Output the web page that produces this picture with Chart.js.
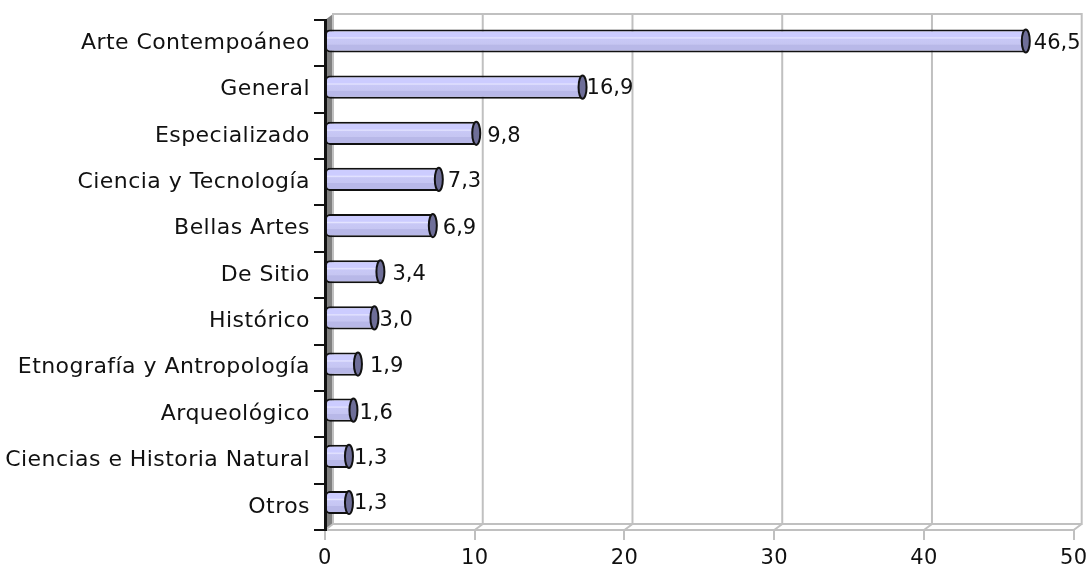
<!DOCTYPE html>
<html>
<head>
<meta charset="utf-8">
<style>
html, body { margin: 0; padding: 0; background: #fff; }
canvas { display: block; }
</style>
<script src="https://cdn.jsdelivr.net/npm/chart.js@4"></script>
</head>
<body>
<canvas id="mycanvas" width="1090" height="567"></canvas>
<script>
var categories = ["Arte Contempoáneo", "General", "Especializado", "Ciencia y Tecnología", "Bellas Artes", "De Sitio", "Histórico", "Etnografía y Antropología", "Arqueológico", "Ciencias e Historia Natural", "Otros"];
var values = [46.5, 16.9, 9.8, 7.3, 6.9, 3.4, 3.0, 1.9, 1.6, 1.3, 1.3];
var xTicks = [0, 10, 20, 30, 40, 50];

// extra gap of each value label, the original places them unevenly
var labelGap = [3, -1, 6, 4, 5, 7, 0, 7, 1, 0, 0];
var labelDrop = [3, 1, 3, 2, 3, 3, 3, 2, 3, 2, 1];

var FONT = "'DejaVu Sans', Verdana, sans-serif";
var DEPTH_X = 8, DEPTH_Y = 6;
var GRID = "#c0c0c0";

function barShift(i) { return 2.2 + i * 0.21; }

var walls = {
  id: "walls",
  beforeDraw: function(chart) {
    var c = chart.ctx, a = chart.chartArea, x = chart.scales.x;
    c.save();
    // side wall
    c.fillStyle = "#808080";
    c.beginPath();
    c.moveTo(a.left, a.top);
    c.lineTo(a.left + DEPTH_X, a.top - DEPTH_Y);
    c.lineTo(a.left + DEPTH_X, a.bottom - DEPTH_Y);
    c.lineTo(a.left, a.bottom);
    c.closePath();
    c.fill();
    // back wall, floor and grid
    c.strokeStyle = GRID;
    c.lineWidth = 2;
    c.beginPath();
    c.moveTo(a.left + DEPTH_X, a.bottom - DEPTH_Y);
    c.lineTo(a.left + DEPTH_X, a.top - DEPTH_Y);
    c.lineTo(a.right + DEPTH_X, a.top - DEPTH_Y);
    c.lineTo(a.right + DEPTH_X, a.bottom - DEPTH_Y);
    c.lineTo(a.left + DEPTH_X, a.bottom - DEPTH_Y);
    xTicks.forEach(function(t) {
      var px = x.getPixelForValue(t);
      c.moveTo(px, a.bottom);
      c.lineTo(px + DEPTH_X, a.bottom - DEPTH_Y);
      if (t > 0 && t < 50) c.lineTo(px + DEPTH_X, a.top - DEPTH_Y);
    });
    c.moveTo(a.left, a.bottom);
    c.lineTo(a.right, a.bottom);
    c.stroke();
    c.restore();
    // the original axis text is spaced wider than DejaVu
    c.letterSpacing = "0.45px";
  }
};

var cylinder = {
  id: "cylinder",
  afterDatasetsUpdate: function(chart) {
    chart.getDatasetMeta(0).data.forEach(function(bar, i) {
      bar.x += 4.5;
      bar.y -= barShift(i);
      bar.base -= 1;
    });
  },
  afterDatasetsDraw: function(chart) {
    var c = chart.ctx;
    c.save();
    c.letterSpacing = "0px";
    chart.getDatasetMeta(0).data.forEach(function(bar, i) {
      c.fillStyle = "#6e6e98";
      c.strokeStyle = "#111";
      c.lineWidth = 2;
      c.beginPath();
      c.ellipse(bar.x, bar.y, 4, bar.height / 2, 0, 0, Math.PI * 2);
      c.fill();
      c.stroke();
      c.fillStyle = "#111";
      c.font = "21px " + FONT;
      c.textAlign = "left";
      c.textBaseline = "middle";
      c.fillText(values[i].toFixed(1).replace(".", ","), bar.x + 5 + labelGap[i], bar.y + labelDrop[i]);
    });
    c.restore();
  }
};

var ctx = document.getElementById("mycanvas").getContext("2d");
var barChart = new Chart(ctx, {
  type: "bar",
  plugins: [walls, cylinder],
  data: {
    labels: categories,
    datasets: [{
      data: values,
      backgroundColor: function(context) {
        var y = context.chart.scales.y;
        if (!y || context.dataIndex === undefined) return "#ccccff";
        var mid = y.getPixelForValue(context.dataIndex) - barShift(context.dataIndex);
        if (!isFinite(mid)) return "#ccccff";
        var g = context.chart.ctx.createLinearGradient(0, mid - 11, 0, mid + 11);
        g.addColorStop(0, "#ccccff");
        g.addColorStop(0.3, "#ccccff");
        g.addColorStop(0.36, "#e4e4ff");
        g.addColorStop(0.42, "#c8c8f6");
        g.addColorStop(0.65, "#c6c6f2");
        g.addColorStop(0.68, "#b8b8e8");
        g.addColorStop(1, "#b8b8e8");
        return g;
      },
      borderColor: "#111",
      borderWidth: 2,
      borderSkipped: false,
      borderRadius: { topLeft: 5, bottomLeft: 5, topRight: 0, bottomRight: 0 },
      barPercentage: 0.5,
      categoryPercentage: 1
    }]
  },
  options: {
    indexAxis: "y",
    responsive: false,
    animation: false,
    layout: { autoPadding: false, padding: { top: 20, right: 16.3, bottom: 0, left: 0 } },
    plugins: { legend: { display: false }, tooltip: { enabled: false } },
    scales: {
      x: {
        min: xTicks[0],
        max: xTicks[xTicks.length - 1],
        afterFit: function(scale) { scale.height = 37; scale.paddingRight = 0; scale.paddingLeft = 0; },
        ticks: { stepSize: 10, maxRotation: 0, padding: 6, color: "#111", font: { family: FONT, size: 21 } },
        grid: { drawOnChartArea: false, color: GRID, lineWidth: 2, tickLength: 10 },
        border: { color: GRID, width: 2 }
      },
      y: {
        afterFit: function(scale) { scale.width = 325; },
        ticks: { padding: 4, color: "#111", font: { family: FONT, size: 22 } },
        grid: { drawOnChartArea: false, color: "#111", lineWidth: 2, tickLength: 11 },
        border: { color: "#111", width: 3 }
      }
    }
  }
});
</script>
</body>
</html>
